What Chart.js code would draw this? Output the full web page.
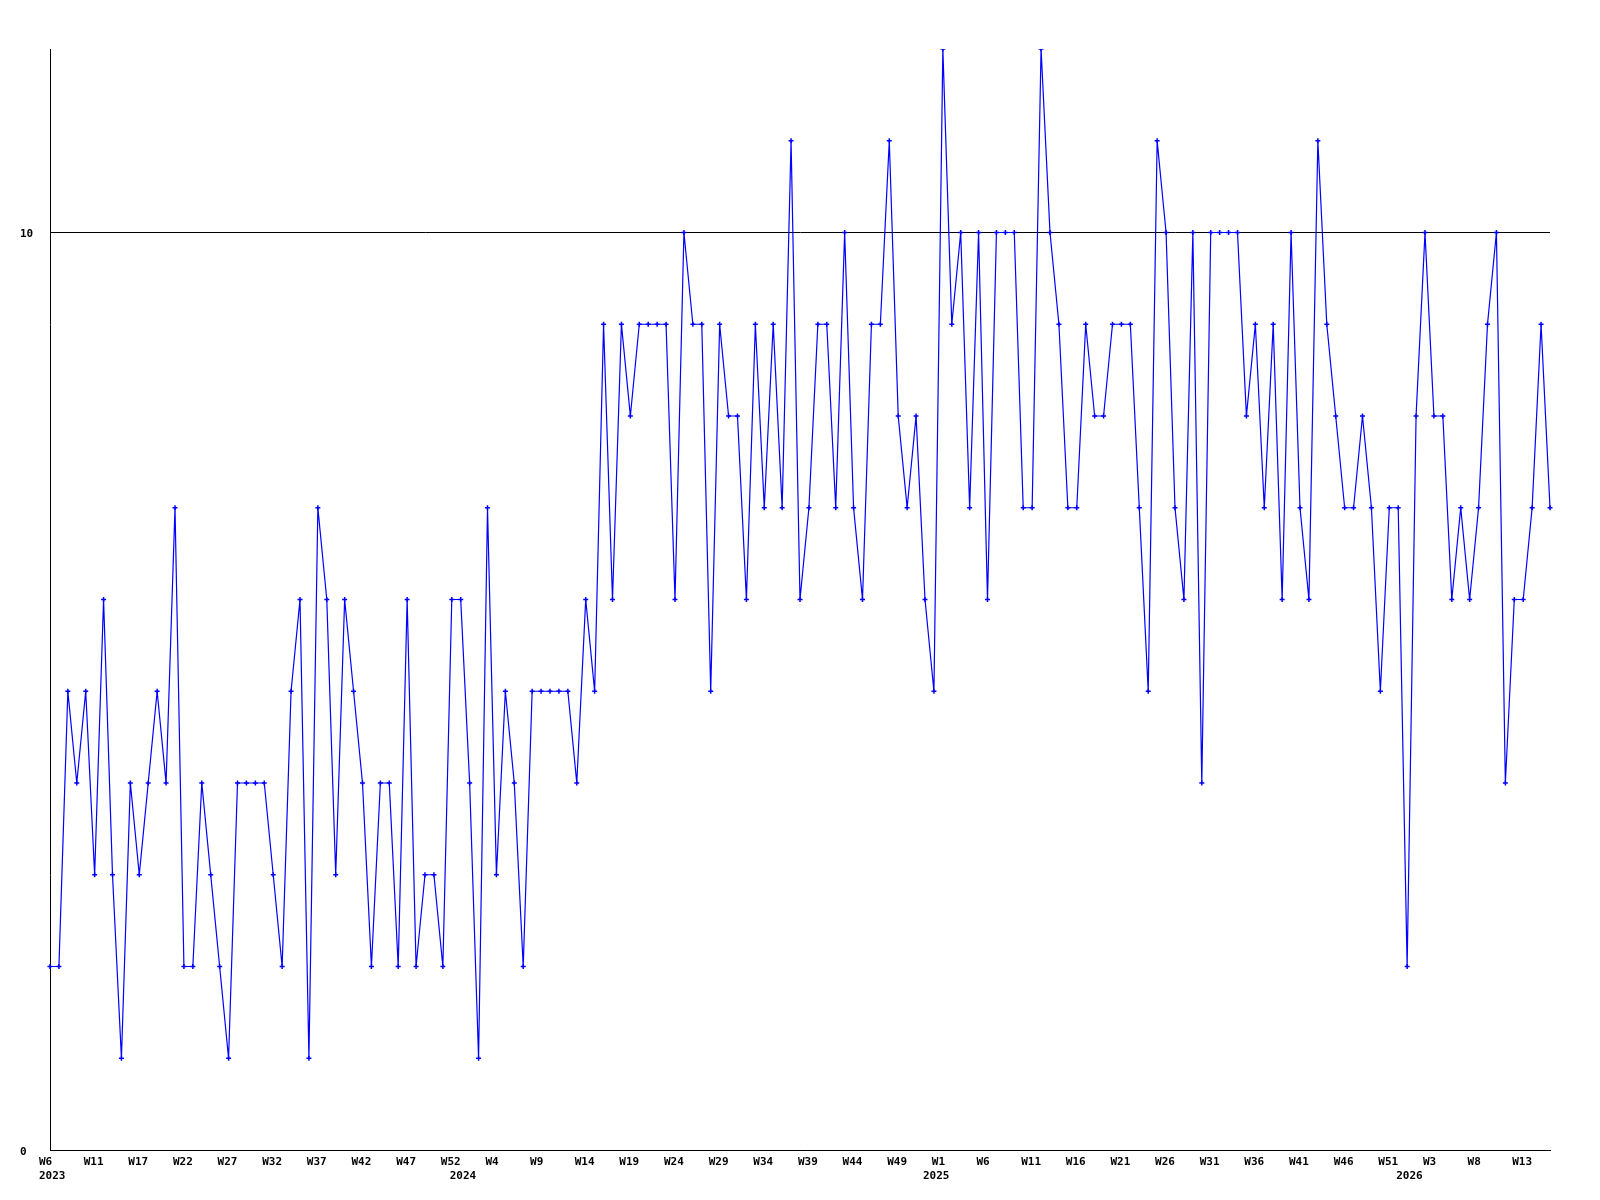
<!DOCTYPE html>
<html>
<head>
<meta charset="utf-8">
<script src="https://cdn.jsdelivr.net/npm/chart.js@4.4.1/dist/chart.umd.min.js"></script>
<style>
  body { margin: 0; background: #fff; }
  canvas { display: block; }
</style>
</head>
<body>
<canvas id="chart" width="1600" height="1200"></canvas>
<script>
// weekly counts, one per point
const values = [
  2,2,5,4,5,3,6,3,1,4,3,4,5,4,7,2,2,4,3,2,1,4,4,4,4,3,2,5,6,1,
  7,6,3,6,5,4,2,4,4,2,6,2,3,3,2,6,6,4,1,7,3,5,4,2,5,5,5,5,5,
  4,6,5,9,6,9,8,9,9,9,9,6,10,9,9,5,9,8,8,6,9,7,9,7,11,6,7,9,9,
  7,10,7,6,9,9,11,8,7,8,6,5,12,9,10,7,10,6,10,10,10,7,7,12,10,9,7,7,9,
  8,8,9,9,9,7,5,11,10,7,6,10,4,10,10,10,10,8,9,7,9,6,10,7,6,11,9,8,7,
  7,8,7,5,7,7,2,8,10,8,8,6,7,6,7,9,10,4,6,6,7,9,7
];

// week tick labels, one every 5 points
const weekLabels = ['W6','W11','W17','W22','W27','W32','W37','W42','W47','W52',
  'W4','W9','W14','W19','W24','W29','W34','W39','W44','W49',
  'W1','W6','W11','W16','W21','W26','W31','W36','W41','W46',
  'W51','W3','W8','W13'];
const weekStep = 5;

// year labels and the point index they sit under
const years = ['2023','2024','2025','2026'];
const yearAt = [0, 46, 99, 152];

const yTicks = [0, 10];

const categories = values.map((v, i) => i);

function tickText(i) {
  let w = i % weekStep === 0 ? (weekLabels[i / weekStep] || '') : '';
  let y = yearAt.indexOf(i);
  if (y >= 0) return [w, years[y]];
  return w;
}

const font = { family: '"DejaVu Sans Mono", monospace', size: 11, weight: 'bold', lineHeight: '14px' };

new Chart(document.getElementById('chart'), {
  type: 'line',
  data: {
    labels: categories,
    datasets: [{
      data: values,
      borderColor: '#0000ff',
      backgroundColor: '#0000ff',
      borderWidth: 1.2,
      tension: 0,
      pointStyle: 'cross',
      pointRadius: 2.5,
      pointBorderWidth: 1.5,
      pointHoverRadius: 2.5
    }]
  },
  options: {
    responsive: false,
    animation: false,
    devicePixelRatio: 1,
    layout: { padding: { left: 20, right: 50, top: 49, bottom: 0 } },
    plugins: { legend: { display: false }, tooltip: { enabled: false } },
    scales: {
      x: {
        grid: { display: false, drawTicks: false, tickLength: 0 },
        border: { display: true, color: '#000', width: 1 },
        afterFit: s => { s.height = 50; },
        ticks: {
          autoSkip: false,
          maxRotation: 0,
          minRotation: 0,
          align: 'start',
          labelOffset: -11,
          padding: 5,
          color: '#000',
          font: font,
          callback: (v, i) => tickText(i)
        }
      },
      y: {
        min: 0,
        max: 12,
        afterBuildTicks: s => { s.ticks = yTicks.map(v => ({ value: v })); },
        afterFit: s => { s.width = 30; },
        grid: { color: '#000', lineWidth: 1, drawTicks: false },
        border: { display: true, color: '#000', width: 1 },
        ticks: { crossAlign: 'far', padding: 0, labelOffset: 2, color: '#000', font: font }
      }
    }
  }
});
</script>
</body>
</html>
